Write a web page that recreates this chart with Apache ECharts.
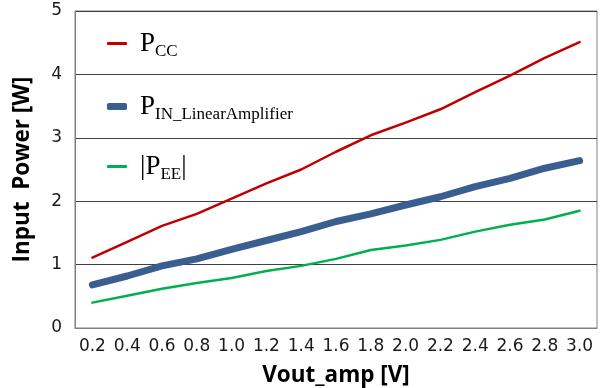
<!DOCTYPE html>
<html>
  <head>
    <meta charset="utf-8" />
    <title>Input power vs Vout_amp</title>
    <script src="https://cdn.jsdelivr.net/npm/echarts@6/dist/echarts.min.js"></script>
  </head>
  <body style="margin: 0">
    <div id="chart" style="width: 602px; height: 388px"></div>

    <script type="text/javascript">
// x categories (Vout_amp [V])
const vout = ['0.2', '0.4', '0.6', '0.8', '1.0', '1.2', '1.4', '1.6',
              '1.8', '2.0', '2.2', '2.4', '2.6', '2.8', '3.0'];

// Input power [W]
const p_cc = [1.11, 1.36, 1.61, 1.80, 2.04, 2.28, 2.50, 2.78,
              3.04, 3.24, 3.45, 3.72, 3.98, 4.26, 4.51];
const p_in = [0.68, 0.82, 0.98, 1.09, 1.24, 1.38, 1.52, 1.68,
              1.80, 1.94, 2.07, 2.23, 2.36, 2.52, 2.64];
const p_ee = [0.40, 0.51, 0.62, 0.71, 0.79, 0.90, 0.98, 1.09,
              1.23, 1.30, 1.39, 1.52, 1.63, 1.71, 1.85];

const y_ticks = [0, 1, 2, 3, 4, 5];

const serif = '"Liberation Serif", "Times New Roman", serif';
const legend_rich = {
  p: { fontFamily: serif, fontSize: 27, color: '#000', lineHeight: 30, padding: [0, 0, 0, 8] },
  bar: { fontFamily: serif, fontSize: 27, color: '#000', lineHeight: 30 },
  s: { fontFamily: serif, fontSize: 17, color: '#000', lineHeight: 30, verticalAlign: 'bottom', padding: [0, 0, -2, 0] }
};

const legend_text = {
  'Pcc': '{p|P}{s|CC}',
  'Pin': '{p|P}{s|IN_LinearAmplifier}',
  'Pee': '{p||P}{s|EE}{bar||}'
};

function make_legend(name, top, height) {
  return {
    data: [name],
    left: 102,
    top: top,
    orient: 'vertical',
    icon: 'roundRect',
    itemWidth: 20,
    itemHeight: height,
    selectedMode: false,
    formatter: function (n) { return legend_text[n]; },
    textStyle: { rich: legend_rich }
  };
}

const name_style = { fontFamily: '"Open Sans", sans-serif', fontWeight: 'bold', fontSize: 22.5, color: '#000' };
const tick_style = { fontFamily: '"DejaVu Sans", sans-serif', fontSize: 17, color: '#1a1a1a' };

const option = {
  animation: false,
  legend: [
    make_legend('Pcc', 25, 3),
    make_legend('Pin', 88, 7),
    make_legend('Pee', 148, 3)
  ],
  grid: {
    left: 75,
    right: 5,
    top: 11,
    bottom: 60,
    containLabel: false,
    outerBoundsMode: 'none',
    show: true,
    borderColor: '#808080',
    borderWidth: 1
  },
  xAxis: {
    type: 'category',
    data: vout,
    name: 'Vout_amp [V]',
    nameLocation: 'middle',
    nameGap: 36,
    nameTextStyle: name_style,
    axisLine: { lineStyle: { color: '#808080' } },
    axisTick: { inside: true, length: 4, alignWithLabel: true, lineStyle: { color: '#808080' } },
    axisLabel: Object.assign({ margin: 10, interval: 0 }, tick_style)
  },
  yAxis: {
    type: 'value',
    min: y_ticks[0],
    max: y_ticks[y_ticks.length - 1],
    interval: 1,
    name: 'Input  Power [W]',
    nameLocation: 'middle',
    nameGap: 41,
    nameTextStyle: name_style,
    axisLine: { show: true, lineStyle: { color: '#808080' } },
    axisTick: { show: false },
    axisLabel: Object.assign({ margin: 13 }, tick_style),
    splitLine: { lineStyle: { color: '#404040', width: 1 } }
  },
  series: [
    {
      name: 'Pcc',
      type: 'line',
      data: p_cc,
      showSymbol: false,
      color: '#C00000',
      lineStyle: { width: 2.5, color: '#C00000', cap: 'round', join: 'round' }
    },
    {
      name: 'Pin',
      type: 'line',
      data: p_in,
      showSymbol: false,
      color: '#3A5E8F',
      lineStyle: { width: 7, color: '#3A5E8F', cap: 'round', join: 'round' }
    },
    {
      name: 'Pee',
      type: 'line',
      data: p_ee,
      showSymbol: false,
      color: '#00B050',
      lineStyle: { width: 2.5, color: '#00B050', cap: 'round', join: 'round' }
    }
  ]
};

const chart = echarts.init(document.getElementById('chart'));
chart.setOption(option);
    </script>
  </body>
</html>
